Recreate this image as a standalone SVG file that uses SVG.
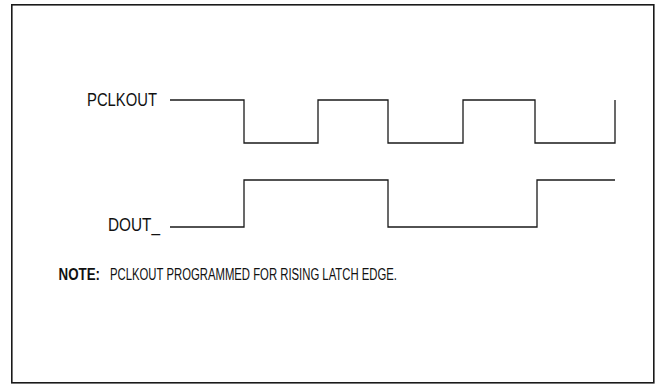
<svg xmlns="http://www.w3.org/2000/svg" width="657" height="384" viewBox="0 0 657 384">
<style>
.frame{fill:#fff;stroke:#1a1a1a;stroke-width:1.6}
.wave{fill:none;stroke:#1a1a1a;stroke-width:1.3;stroke-linejoin:miter}
.lbl{font-family:"Liberation Sans",Arial,sans-serif;font-size:18.5px;fill:#111}
.note{font-size:16.8px}
.bold{font-weight:bold}
</style>
<rect class="frame" x="11.8" y="4.8" width="642" height="378"/>
<g id="pclkout">
<text class="lbl" x="157" y="105.5" text-anchor="end" textLength="70" lengthAdjust="spacingAndGlyphs">PCLKOUT</text>
</g>
<g id="dout">
<text class="lbl" x="160" y="230.5" text-anchor="end" textLength="52" lengthAdjust="spacingAndGlyphs">DOUT_</text>
</g>
<g id="connectors">
<path class="wave" d="M170,100 H244 V143 H318 V100 H388 V143 H463 V100 H535 V143 H615 V100"/>
<path class="wave" d="M170,227 H244 V180 H388 V227 H537 V180 H615"/>
</g>
<g id="note">
<text class="lbl note bold" x="58.5" y="280" textLength="41.5" lengthAdjust="spacingAndGlyphs">NOTE:</text>
<text class="lbl note" x="110" y="280" textLength="287" lengthAdjust="spacingAndGlyphs">PCLKOUT PROGRAMMED FOR RISING LATCH EDGE.</text>
</g>
</svg>
